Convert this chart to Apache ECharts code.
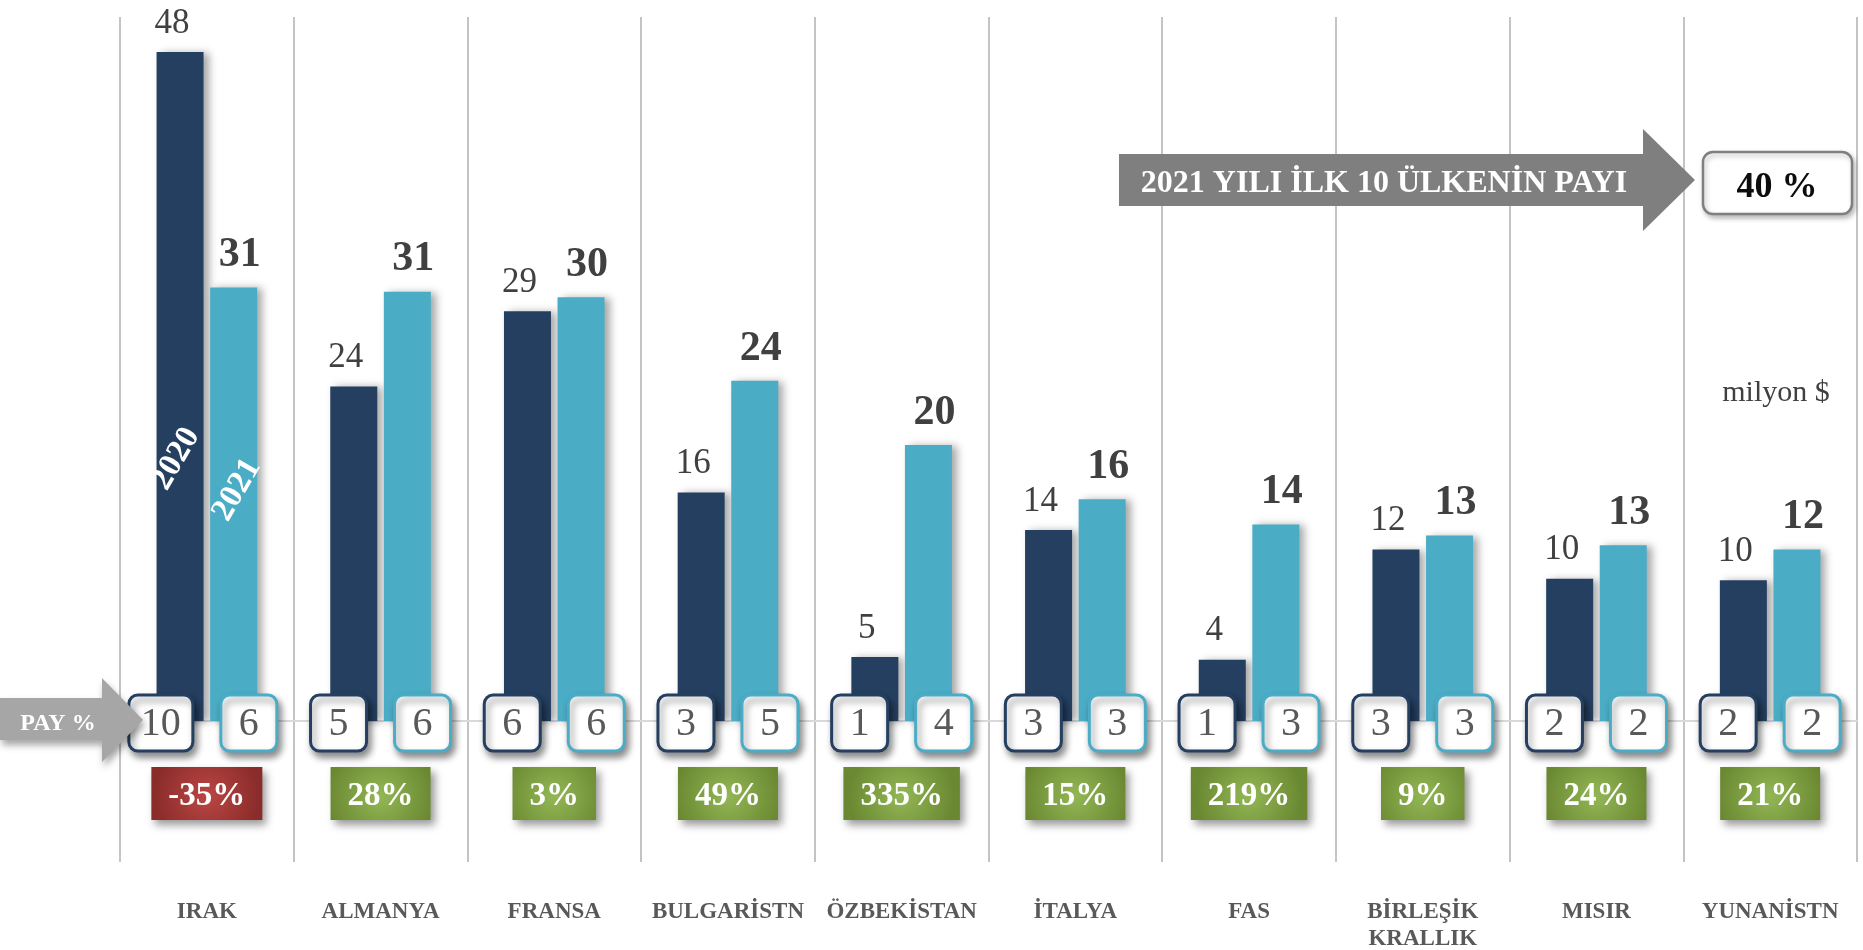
<!DOCTYPE html>
<html>
<head>
<meta charset="utf-8">
<title>İlk 10 ülke</title>
<script src="https://cdn.jsdelivr.net/npm/echarts@6/dist/echarts.min.js"></script>
<style>
  html, body { margin: 0; padding: 0; background: #fff; }
  #main { width: 1863px; height: 950px; }
</style>
</head>
<body>
<div id="main"></div>
<script>
// data (milyon $)
var countries = ['IRAK', 'ALMANYA', 'FRANSA', 'BULGARİSTN', 'ÖZBEKİSTAN', 'İTALYA', 'FAS', 'BİRLEŞİK\nKRALLIK', 'MISIR', 'YUNANİSTN'];
var years = ['2020', '2021'];
var values2020 = [48.0, 24.0, 29.4, 16.4, 4.6, 13.7, 4.4, 12.3, 10.2, 10.1];
var values2021 = [31.1, 30.8, 30.4, 24.4, 19.8, 15.9, 14.1, 13.3, 12.6, 12.3];
var share2020 = [10, 5, 6, 3, 1, 3, 1, 3, 2, 2];
var share2021 = [6, 6, 6, 5, 4, 3, 3, 3, 2, 2];
var change = [-35, 28, 3, 49, 335, 15, 219, 9, 24, 21];
var top10Share = 40;
var unit = 'milyon $';

var SERIF = '"Liberation Serif", "Times New Roman", serif';
var colors = ['#243f60', '#4bacc6'];

var measureCtx = document.createElement('canvas').getContext('2d');
function textWidth(text, font) {
  measureCtx.font = font;
  return measureCtx.measureText(text).width;
}

function boxGradient(up) {
  return new echarts.graphic.RadialGradient(0.5, 0.55, 1, up ? [
    { offset: 0, color: '#93b755' },
    { offset: 1, color: '#6a8831' }
  ] : [
    { offset: 0, color: '#bb4644' },
    { offset: 1, color: '#8a2c2a' }
  ]);
}

// share boxes on the baseline, change boxes below, year tags in the first bars
function renderExtras(params, api) {
  var i = params.dataIndex;
  var base = api.coord([i, 0]);
  var cx = base[0], y0 = base[1];
  var children = [];
  var shareFont = '40px ' + SERIF;
  [[share2020[i], -1, colors[0]], [share2021[i], 1, colors[1]]].forEach(function (s) {
    var txt = String(s[0]);
    var w = Math.max(56, textWidth(txt, shareFont) + 24);
    var x = s[1] < 0 ? cx - 14 - w : cx + 14;
    children.push({
      type: 'rect',
      shape: { x: x, y: y0 - 26, width: w, height: 56, r: 9 },
      style: {
        fill: '#fff', stroke: s[2], lineWidth: 3,
        shadowBlur: 7, shadowColor: 'rgba(0,0,0,0.45)', shadowOffsetX: 3, shadowOffsetY: 5
      }
    });
    children.push({
      type: 'text',
      x: x + w / 2, y: y0 + 3,
      style: { text: txt, font: shareFont, fill: '#595959', align: 'center', verticalAlign: 'middle' }
    });
  });

  var chFont = 'bold 33px ' + SERIF;
  var chTxt = change[i] + '%';
  var cw = textWidth(chTxt, chFont) + 34;
  children.push({
    type: 'rect',
    shape: { x: cx - cw / 2, y: y0 + 46, width: cw, height: 53 },
    style: {
      fill: boxGradient(change[i] >= 0),
      shadowBlur: 8, shadowColor: 'rgba(0,0,0,0.4)', shadowOffsetX: 4, shadowOffsetY: 5
    }
  });
  children.push({
    type: 'text',
    x: cx, y: y0 + 75,
    style: { text: chTxt, font: chFont, fill: '#fff', align: 'center', verticalAlign: 'middle' }
  });

  if (i === 0) {
    var tagFont = 'bold 33px ' + SERIF;
    children.push({
      type: 'text', x: cx - 31, y: y0 - 262, rotation: Math.PI / 3,
      style: { text: years[0], font: tagFont, fill: '#fff', align: 'center', verticalAlign: 'middle' }
    });
    children.push({
      type: 'text', x: cx + 30, y: y0 - 231, rotation: Math.PI / 3,
      style: { text: years[1], font: tagFont, fill: '#fff', align: 'center', verticalAlign: 'middle' }
    });
  }
  return { type: 'group', children: children };
}

var barShadow = {
  shadowBlur: 8, shadowColor: 'rgba(0,0,0,0.35)', shadowOffsetX: 5, shadowOffsetY: 1
};

var option = {
  backgroundColor: '#fff',
  animation: false,
  grid: [
    { left: 120, right: 6, top: 24, bottom: 229, outerBoundsMode: 'none' },
    { left: 120, right: 6, top: 17, bottom: 88, outerBoundsMode: 'none' }
  ],
  xAxis: [
    {
      type: 'category', data: countries, gridIndex: 0,
      axisLine: { show: true, lineStyle: { color: '#d9d9d9', width: 2 } },
      axisTick: { show: false },
      splitLine: { show: false },
      axisLabel: {
        interval: 0, margin: 178, color: '#595959',
        fontFamily: SERIF, fontWeight: 'bold', fontSize: 23, lineHeight: 27
      }
    },
    {
      type: 'category', data: countries, gridIndex: 1,
      axisLine: { show: false }, axisTick: { show: false }, axisLabel: { show: false },
      splitLine: { show: true, lineStyle: { color: '#c4c4c4', width: 2 } }
    }
  ],
  yAxis: [
    { type: 'value', gridIndex: 0, min: 0, max: 50, show: false },
    { type: 'value', gridIndex: 1, show: false }
  ],
  series: [
    {
      name: years[0], type: 'bar', xAxisIndex: 0, yAxisIndex: 0,
      data: values2020, barWidth: 47, barGap: '14%',
      itemStyle: Object.assign({ color: colors[0] }, barShadow),
      label: {
        show: true, position: 'top', distance: 11, offset: [-8, 0],
        formatter: function (p) { return Math.round(p.value); },
        fontFamily: SERIF, fontSize: 35, color: '#404040'
      },
      z: 3
    },
    {
      name: years[1], type: 'bar', xAxisIndex: 0, yAxisIndex: 0,
      data: values2021, barWidth: 47,
      itemStyle: Object.assign({ color: colors[1] }, barShadow),
      label: {
        show: true, position: 'top', distance: 11, offset: [6, 0],
        formatter: function (p) { return Math.round(p.value); },
        fontFamily: SERIF, fontSize: 42, fontWeight: 'bold', color: '#404040'
      },
      z: 3
    },
    {
      name: 'pay', type: 'custom', xAxisIndex: 0, yAxisIndex: 0,
      data: countries.map(function (c, i) { return [i, 0]; }),
      encode: { x: 0, y: 1 },
      renderItem: renderExtras,
      clip: false,
      z: 5
    }
  ],
  graphic: [
    {
      type: 'polygon', z: 20,
      shape: { points: [[0, 698], [102, 698], [102, 678], [143, 720], [102, 762], [102, 740], [0, 740]] },
      style: { fill: '#a6a6a6', shadowBlur: 7, shadowColor: 'rgba(0,0,0,0.35)', shadowOffsetX: 2, shadowOffsetY: 5 }
    },
    {
      type: 'text', z: 21, x: 58, y: 724,
      style: { text: 'PAY %', font: 'bold 24px ' + SERIF, fill: '#fff', align: 'center', verticalAlign: 'middle' }
    },
    {
      type: 'polygon', z: 20,
      shape: { points: [[1119, 154], [1643, 154], [1643, 129], [1695, 180], [1643, 231], [1643, 206], [1119, 206]] },
      style: { fill: '#7f7f7f' }
    },
    {
      type: 'text', z: 21, x: 1384, y: 184,
      style: { text: '2021 YILI İLK 10 ÜLKENİN PAYI', font: 'bold 32px ' + SERIF, fill: '#fff', align: 'center', verticalAlign: 'middle' }
    },
    {
      type: 'rect', z: 20,
      shape: { x: 1703, y: 152, width: 149, height: 62, r: 10 },
      style: { fill: '#fff', stroke: '#7f7f7f', lineWidth: 2.5, shadowBlur: 5, shadowColor: 'rgba(0,0,0,0.25)', shadowOffsetX: 2, shadowOffsetY: 3 }
    },
    {
      type: 'text', z: 21, x: 1777, y: 188,
      style: { text: top10Share + ' %', font: 'bold 36px ' + SERIF, fill: '#0d0d0d', align: 'center', verticalAlign: 'middle' }
    },
    {
      type: 'text', z: 21, x: 1776, y: 393,
      style: { text: unit, font: '30px ' + SERIF, fill: '#404040', align: 'center', verticalAlign: 'middle' }
    }
  ]
};

var chart = echarts.init(document.getElementById('main'));
chart.setOption(option);
</script>
</body>
</html>
